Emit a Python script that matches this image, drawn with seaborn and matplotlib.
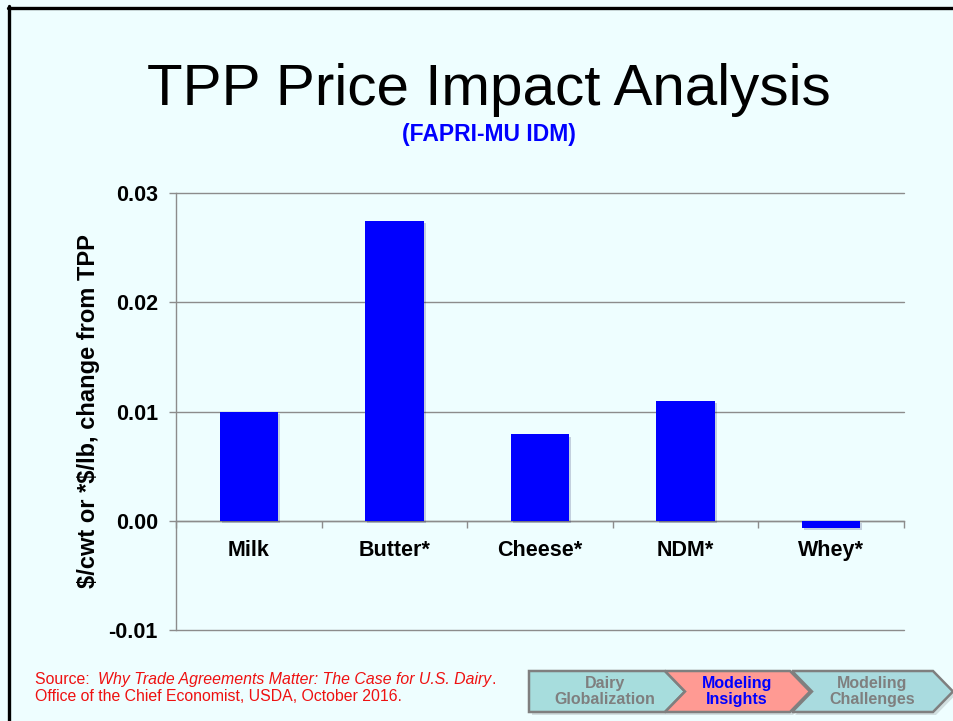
import matplotlib
matplotlib.use("Agg")
import matplotlib.pyplot as plt
import seaborn as sns
import pandas as pd
from matplotlib.patches import Polygon
from matplotlib.lines import Line2D
import matplotlib.patheffects as pe

# ---- data ----
categories = ["Milk", "Butter*", "Cheese*", "NDM*", "Whey*"]
values = [0.0100, 0.0274, 0.0079, 0.0110, -0.0007]
y_ticks = [-0.01, 0.00, 0.01, 0.02, 0.03]
y_tick_labels = ["-0.01", "0.00", "0.01", "0.02", "0.03"]
nav_labels = ["Dairy\nGlobalization", "Modeling\nInsights", "Modeling\nChallenges"]

title = "TPP Price Impact Analysis"
subtitle = "(FAPRI-MU IDM)"
ylabel = "$/cwt or *$/lb, change from TPP"

sns.set_theme(style="white")
plt.rcParams["font.family"] = ["Liberation Sans", "DejaVu Sans"]

BG = "#EEFEFF"
W, H = 954, 721
fig = plt.figure(figsize=(W / 100, H / 100), dpi=100, facecolor=BG)

def fx(px):
    return px / W

def fy(py):
    return 1 - py / H

# axes placement
ax = fig.add_axes([fx(176), fy(630), (904 - 176) / W, (630 - 193) / H])
ax.set_facecolor(BG)

df = pd.DataFrame({"cat": categories, "val": values})
sns.barplot(data=df, x="cat", y="val", color="#0000FF", saturation=1,
            width=0.4, ax=ax, zorder=3)
for p in ax.patches:
    p.set_edgecolor("none")
    p.set_path_effects([pe.SimplePatchShadow(offset=(1.5, -1.5), alpha=0.18), pe.Normal()])

ax.set_xlim(-0.5, len(categories) - 0.5)
ax.set_ylim(-0.01, 0.03)
ax.set_yticks(y_ticks)
ax.set_yticklabels(y_tick_labels, fontsize=15.5, fontweight="bold", color="black")

gridc = "#8C8C8C"
ax.yaxis.grid(True, color=gridc, lw=1.0, zorder=0)
ax.xaxis.grid(False)
for gl in ax.get_ygridlines():
    gl.set_clip_on(False)
for s in ["top", "right"]:
    ax.spines[s].set_visible(False)
ax.spines["left"].set_color(gridc)
ax.spines["left"].set_linewidth(1.0)
ax.spines["bottom"].set_position(("data", 0))
ax.spines["bottom"].set_color(gridc)
ax.spines["bottom"].set_linewidth(1.0)
ax.spines["bottom"].set_zorder(2)

ax.tick_params(axis="y", direction="out", length=5, width=1, color=gridc, pad=8, left=True)
ax.set_xticks(range(len(categories)))
ax.set_xticklabels(categories, fontsize=15.5, fontweight="bold", color="black")
ax.tick_params(axis="x", which="major", length=0, pad=14, bottom=True)
ax.set_xticks([i - 0.5 for i in range(len(categories) + 1)], minor=True)
ax.tick_params(axis="x", which="minor", direction="out", length=5, width=1, color=gridc, bottom=True)

ax.set_xlabel("")
ax.set_ylabel(ylabel, fontsize=17, fontweight="bold", color="black", parse_math=False)
ax.yaxis.set_label_coords((100 - 176) / 728, 0.5)

# ---- titles ----
fig.text(fx(489), fy(105), title, fontsize=42, color="black", ha="center", va="baseline")
fig.text(fx(489), fy(141), subtitle, fontsize=16.5, fontweight="bold", color="#0000FF",
         ha="center", va="baseline")

# ---- slide border (left and top) ----
fig.add_artist(Line2D([fx(8), fx(954)], [fy(7.5), fy(7.5)], color="black", lw=2.4,
                      transform=fig.transFigure))
fig.add_artist(Line2D([fx(9.5), fx(9.5)], [fy(6), fy(721)], color="black", lw=2.4,
                      transform=fig.transFigure))

# ---- source text ----
red = "#EE1111"
fs_src = 11.4
t1 = fig.text(fx(35), fy(684), "Source:  ", fontsize=fs_src, color=red, va="baseline",
              parse_math=False)
fig.canvas.draw()
r = fig.canvas.get_renderer()
x_next = t1.get_window_extent(r).x1 / fig.bbox.width
t2 = fig.text(x_next, fy(684), "Why Trade Agreements Matter: The Case for U.S. Dairy",
              fontsize=fs_src, color=red, style="italic", va="baseline")
fig.canvas.draw()
x_next = t2.get_window_extent(r).x1 / fig.bbox.width
fig.text(x_next, fy(684), ".", fontsize=fs_src, color=red, va="baseline")
fig.text(fx(35), fy(701), "Office of the Chief Economist, USDA, October 2016.",
         fontsize=fs_src, color=red, va="baseline")

# ---- navigation chevrons ----
top, bot, mid = 671, 712, 691.5
shapes = [
    [(529, top), (665, top), (685, mid), (665, bot), (529, bot)],
    [(665, top), (790, top), (810, mid), (790, bot), (665, bot), (685, mid)],
    [(792, top), (933, top), (953, mid), (933, bot), (792, bot), (812, mid)],
]
fills = ["#A7DDDD", "#FF9A93", "#A9DBDF"]
text_colors = ["#7F7F7F", "#0000FF", "#7F7F7F"]
centers = [605, 737, 872]
for pts, fc in zip(shapes, fills):
    sh = Polygon([(fx(x + 3), fy(y + 3)) for x, y in pts], closed=True,
                 transform=fig.transFigure, facecolor="#000000", alpha=0.12,
                 edgecolor="none")
    fig.add_artist(sh)
for pts, fc in zip(shapes, fills):
    poly = Polygon([(fx(x), fy(y)) for x, y in pts], closed=True,
                   transform=fig.transFigure, facecolor=fc, edgecolor="#7F7F7F", lw=1.8)
    fig.add_artist(poly)
for lab, cx, tc in zip(nav_labels, centers, text_colors):
    fig.text(fx(cx), fy(mid), lab, fontsize=11.5, fontweight="bold", color=tc,
             ha="center", va="center", linespacing=1.1)

fig.savefig("out.png", dpi=100, facecolor=BG)
